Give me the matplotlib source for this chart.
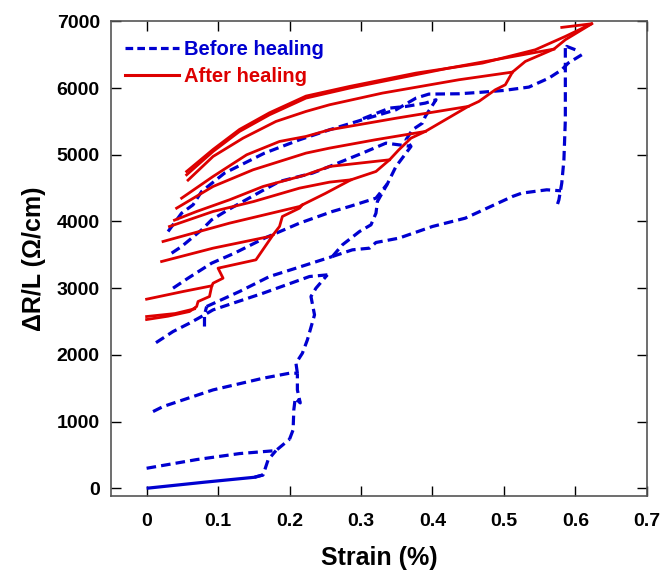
"""Resistance change vs strain, before and after healing (cyclic loading)."""

import matplotlib.pyplot as plt
from matplotlib.lines import Line2D

plt.rcParams["font.family"] = ["Liberation Sans", "DejaVu Sans"]
plt.rcParams["font.weight"] = "bold"

BLUE = "#0000d0"
RED = "#dd0000"

# ---- before healing (blue, dashed); points are (strain %, dR/L ohm/cm) ----
blue_first_load = [(0.0, 0), (0.08, 90), (0.151, 165), (0.163, 200)]
blue_jump1 = [(0.151, 165), (0.163, 200), (0.170, 425), (0.181, 565)]
blue_line300 = [(0.0, 300), (0.07, 430), (0.13, 520), (0.181, 565), (0.2, 735)]
blue_rise1 = [(0.2, 735), (0.205, 875), (0.206, 1175), (0.208, 1350), (0.215, 1280),
              (0.211, 1475), (0.211, 1725)]
blue_line1150 = [(0.009, 1150), (0.023, 1225), (0.093, 1475), (0.163, 1650), (0.2, 1725),
                 (0.211, 1725)]
blue_rise2 = [(0.211, 1725), (0.209, 1875), (0.218, 2025), (0.225, 2225), (0.235, 2600),
              (0.23, 2875), (0.237, 3000), (0.253, 3200)]
blue_line2175 = [(0.253, 3200), (0.228, 3175), (0.163, 2925), (0.093, 2675), (0.081, 2600),
                 (0.06, 2475), (0.037, 2350), (0.012, 2175)]
blue_dip = [(0.081, 2425), (0.081, 2600), (0.084, 2725)]
blue_line2725 = [(0.084, 2725), (0.13, 2950), (0.172, 3175), (0.209, 3300), (0.26, 3475)]
blue_rise3 = [(0.26, 3475), (0.274, 3650), (0.298, 3850), (0.314, 3950), (0.321, 4125),
              (0.323, 4300), (0.337, 4565)]
blue_last_unload = [(0.26, 3475), (0.288, 3575), (0.312, 3600), (0.321, 3685), (0.353, 3750),
                    (0.4, 3925), (0.446, 4050), (0.512, 4375), (0.525, 4425), (0.56, 4475),
                    (0.58, 4460)]
blue_line3000 = [(0.037, 3000), (0.058, 3150), (0.091, 3375), (0.123, 3525), (0.151, 3675),
                 (0.165, 3750), (0.214, 3975), (0.26, 4150), (0.284, 4225), (0.321, 4350),
                 (0.337, 4565), (0.349, 4825), (0.363, 5025), (0.37, 5125), (0.363, 5225),
                 (0.372, 5375), (0.386, 5475), (0.39, 5575), (0.405, 5825), (0.39, 5775),
                 (0.363, 5725), (0.34, 5700), (0.3, 5530)]
blue_line3525 = [(0.035, 3525), (0.049, 3625), (0.063, 3750), (0.077, 3875), (0.091, 4025),
                 (0.114, 4175), (0.16, 4450), (0.186, 4600), (0.232, 4725), (0.256, 4825),
                 (0.302, 5025), (0.335, 5175), (0.37, 5125)]
blue_line3850 = [(0.03, 3850), (0.049, 4125), (0.065, 4250), (0.077, 4450), (0.109, 4725),
                 (0.137, 4875), (0.165, 5025), (0.214, 5225), (0.256, 5375), (0.302, 5525),
                 (0.349, 5675), (0.377, 5850), (0.395, 5910), (0.437, 5915), (0.465, 5935),
                 (0.5, 5965), (0.535, 6015), (0.563, 6150), (0.581, 6275), (0.59, 6375),
                 (0.609, 6500)]
blue_peak = [(0.6, 6575), (0.588, 6625), (0.586, 6575)]
blue_drop = [(0.586, 6600), (0.586, 6225), (0.586, 5525), (0.584, 4925), (0.581, 4575),
             (0.577, 4325), (0.574, 4225)]

blue_dashed = [blue_jump1, blue_line300, blue_rise1, blue_line1150, blue_rise2,
               blue_line2175, blue_dip, blue_line2725, blue_rise3, blue_last_unload,
               blue_line3000, blue_line3525, blue_line3850, blue_peak, blue_drop]

# ---- after healing (red, solid) ----
red_base_a = [(0.0, 2530), (0.03, 2580), (0.06, 2650), (0.067, 2700)]
red_base_b = [(0.0, 2575), (0.04, 2620), (0.067, 2690)]
red_load = [(0.067, 2700), (0.07, 2725), (0.072, 2800), (0.088, 2875), (0.091, 3025),
            (0.093, 3075), (0.107, 3150), (0.1, 3300), (0.153, 3425), (0.177, 3800),
            (0.186, 3925), (0.19, 4075), (0.214, 4200), (0.218, 4250), (0.25, 4420),
            (0.286, 4625), (0.307, 4700), (0.321, 4750), (0.34, 4925), (0.353, 5075),
            (0.37, 5250), (0.39, 5350), (0.41, 5475), (0.43, 5600), (0.45, 5725),
            (0.465, 5800), (0.488, 5975), (0.502, 6050), (0.512, 6240), (0.53, 6400),
            (0.57, 6585), (0.586, 6725), (0.623, 6965)]
red_loop1 = [(0.091, 3035), (0.051, 2950), (0.0, 2835)]
red_loop2 = [(0.177, 3800), (0.172, 3775), (0.093, 3600), (0.021, 3400)]
red_loop3 = [(0.218, 4250), (0.214, 4225), (0.116, 3975), (0.023, 3700)]
red_loop4 = [(0.286, 4625), (0.256, 4590), (0.214, 4500), (0.15, 4300), (0.093, 4150),
             (0.032, 3925)]
red_loop5 = [(0.34, 4925), (0.256, 4825), (0.223, 4700), (0.163, 4525), (0.116, 4325),
             (0.07, 4150), (0.039, 4020)]
red_loop6 = [(0.39, 5350), (0.32, 5225), (0.256, 5100), (0.223, 5025), (0.149, 4775),
             (0.093, 4525), (0.042, 4200)]
red_loop7 = [(0.45, 5725), (0.35, 5550), (0.256, 5375), (0.223, 5275), (0.186, 5200),
             (0.14, 5000), (0.093, 4675), (0.049, 4350)]
red_loop8 = [(0.512, 6240), (0.437, 6125), (0.33, 5925), (0.256, 5750), (0.223, 5650),
             (0.181, 5500), (0.135, 5250), (0.093, 4975), (0.058, 4620)]
red_loop9 = [(0.57, 6585), (0.516, 6480), (0.423, 6300), (0.33, 6100), (0.284, 6000),
             (0.223, 5850), (0.172, 5600), (0.13, 5350), (0.093, 5050), (0.056, 4700)]
red_loop10 = [(0.581, 6910), (0.623, 6965), (0.586, 6775), (0.544, 6575), (0.47, 6375),
              (0.377, 6225), (0.284, 6025), (0.223, 5880), (0.172, 5630), (0.13, 5380),
              (0.093, 5080), (0.056, 4750)]

red_solid = [red_base_a, red_base_b, red_load, red_loop1, red_loop2, red_loop3, red_loop4,
             red_loop5, red_loop6, red_loop7, red_loop8, red_loop9, red_loop10]

x_ticks = [0, 0.1, 0.2, 0.3, 0.4, 0.5, 0.6, 0.7]
x_tick_labels = ["0", "0.1", "0.2", "0.3", "0.4", "0.5", "0.6", "0.7"]
y_ticks = [0, 1000, 2000, 3000, 4000, 5000, 6000, 7000]


def xy(points):
    return [p[0] for p in points], [p[1] for p in points]


fig = plt.figure(figsize=(6.6, 5.76), dpi=100)
ax = fig.add_axes([0.168, 0.139, 0.812, 0.825])

dash = (0, (3.0, 1.6))
xs, ys = xy(blue_first_load)
ax.plot(xs, ys, color=BLUE, lw=2.3, solid_capstyle="butt")
for seg in blue_dashed:
    xs, ys = xy(seg)
    ax.plot(xs, ys, color=BLUE, lw=2.3, linestyle=dash)
for seg in red_solid:
    xs, ys = xy(seg)
    ax.plot(xs, ys, color=RED, lw=2.0)

ax.set_xlim(-0.05, 0.7)
ax.set_ylim(-115, 7010)
ax.set_xticks(x_ticks, labels=x_tick_labels)
ax.set_yticks(y_ticks)
ax.tick_params(direction="in", length=7, width=1, labelsize=14, top=True, right=True,
               pad=8)
ax.tick_params(axis="x", pad=12)
for spine in ax.spines.values():
    spine.set_color("#555555")
    spine.set_linewidth(1.2)

ax.set_xlabel("Strain (%)", fontsize=18, fontweight="bold", labelpad=12)
ax.set_ylabel("\u0394R/L (\u03a9/cm)", fontsize=18, fontweight="bold", labelpad=8)

handles = [Line2D([], [], color=BLUE, lw=2.3, linestyle=(0, (2.4, 1.3))),
           Line2D([], [], color=RED, lw=2.2)]
leg = ax.legend(handles, ["Before healing", "After healing"], loc="upper left",
                frameon=False, fontsize=14.5, handlelength=2.7, handletextpad=0.25,
                labelspacing=0.4, borderaxespad=0.3, bbox_to_anchor=(0.0, 0.99))
for text, color in zip(leg.get_texts(), [BLUE, RED]):
    text.set_color(color)
    text.set_fontweight("bold")

fig.savefig("out.png", dpi=100)
